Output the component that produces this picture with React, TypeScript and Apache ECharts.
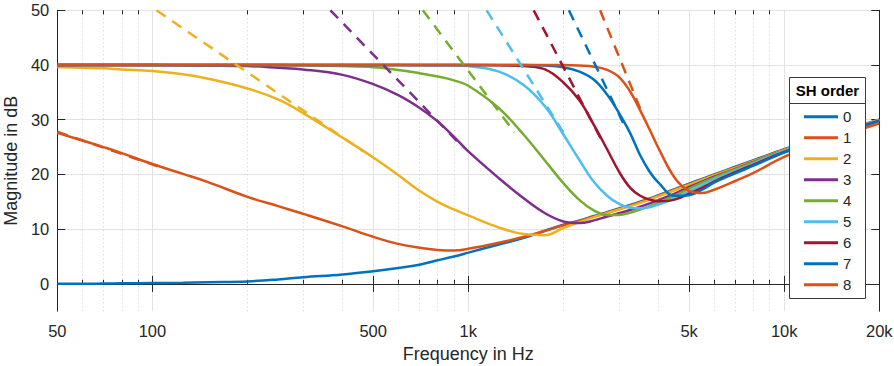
import React, { useEffect, useRef } from "react";
import * as echarts from "echarts";

// ---------- data ----------
const FREQ = [
  50, 60, 70, 80, 100, 125, 150, 200, 250, 300,
  400, 500, 600, 700, 800, 900, 1000,
  1250, 1500, 1750, 2000, 2250, 2500, 2750, 3000,
  3250, 3500, 3750, 4000, 4500, 5000, 5500, 6000,
  7000, 8000, 10000, 12500, 15000, 20000,
];

const order0 = [
  0.0, 0.0, 0.05, 0.1, 0.15, 0.2, 0.3, 0.45, 0.8, 1.2,
  1.7, 2.3, 2.9, 3.5, 4.3, 5.0, 5.7,
  7.2, 8.4, 9.7, 10.8, 11.6, 12.4, 13.1, 13.8,
  14.4, 15.0, 15.6, 16.2, 17.3, 18.3, 19.2, 20.0,
  21.4, 22.6, 24.6, 26.4, 27.8, 30.0,
];
const order1 = [
  27.6, 26.2, 25.0, 23.9, 21.9, 20.1, 18.6, 15.9, 14.2, 12.8,
  10.5, 8.6, 7.3, 6.6, 6.2, 6.1, 6.4,
  7.5, 8.6, 9.7, 10.7, 11.5, 12.3, 13.0, 13.7,
  14.3, 14.9, 15.5, 16.1, 17.2, 18.2, 19.1, 19.9,
  21.3, 22.5, 24.5, 26.3, 27.8, 30.0,
];
const order2 = [
  39.6, 39.5, 39.4, 39.2, 38.9, 38.3, 37.5, 35.7, 33.7, 31.2,
  26.7, 23.1, 19.9, 17.0, 15.0, 13.6, 12.5,
  10.3, 9.1, 8.9, 10.2, 11.3, 12.2, 12.9, 13.6,
  14.2, 14.8, 15.4, 16.0, 17.1, 18.1, 19.0, 19.8,
  21.2, 22.4, 24.5, 26.3, 27.7, 30.0,
];
const order3 = [
  40.0, 40.0, 40.0, 40.0, 40.0, 39.95, 39.9, 39.8, 39.5, 39.2,
  38.2, 36.5, 34.5, 32.2, 29.7, 26.9, 24.2,
  19.3, 15.6, 12.9, 11.4, 11.1, 11.6, 12.3, 12.9,
  13.5, 14.1, 14.7, 15.3, 16.5, 17.7, 18.7, 19.6,
  21.0, 22.3, 24.4, 26.2, 27.7, 29.9,
];
const order4 = [
  40.0, 40.0, 40.0, 40.0, 40.0, 40.0, 40.0, 40.0, 40.0, 39.95,
  39.8, 39.6, 39.1, 38.5, 37.9, 37.2, 36.2,
  32.1, 27.2, 22.5, 18.4, 15.3, 13.4, 12.6, 12.6,
  13.0, 13.6, 14.2, 14.9, 16.1, 17.4, 18.5, 19.4,
  20.9, 22.2, 24.4, 26.2, 27.7, 29.9,
];
const order5 = [
  40.0, 40.0, 40.0, 40.0, 40.0, 40.0, 40.0, 40.0, 40.0, 40.0,
  40.0, 40.0, 40.0, 39.95, 39.9, 39.9, 39.8,
  38.8, 36.3, 32.4, 27.3, 22.6, 18.6, 16.1, 14.6,
  13.9, 13.8, 14.0, 14.5, 15.6, 16.9, 18.1, 19.1,
  20.7, 22.0, 24.3, 26.1, 27.6, 29.9,
];
const order6 = [
  40.0, 40.0, 40.0, 40.0, 40.0, 40.0, 40.0, 40.0, 40.0, 40.0,
  40.0, 40.0, 40.0, 40.0, 40.0, 40.0, 40.0,
  39.95, 39.8, 39.2, 36.8, 33.5, 29.0, 24.6, 20.5,
  17.6, 16.1, 15.4, 15.1, 15.4, 16.5, 17.6, 18.7,
  20.4, 21.8, 24.1, 26.0, 27.5, 29.8,
];
const order7 = [
  40.0, 40.0, 40.0, 40.0, 40.0, 40.0, 40.0, 40.0, 40.0, 40.0,
  40.0, 40.0, 40.0, 40.0, 40.0, 40.0, 40.0,
  40.0, 40.0, 39.9, 39.6, 38.8, 37.3, 34.6, 31.2,
  27.6, 23.5, 20.5, 18.5, 16.1, 16.2, 17.2, 18.5,
  20.2, 21.6, 24.0, 25.9, 27.4, 29.8,
];
const order8 = [
  40.0, 40.0, 40.0, 40.0, 40.0, 40.0, 40.0, 40.0, 40.0, 40.0,
  40.0, 40.0, 40.0, 40.0, 40.0, 40.0, 40.0,
  40.0, 40.0, 40.0, 40.0, 39.9, 39.7, 39.1, 37.8,
  35.2, 31.7, 28.2, 24.8, 19.4, 17.0, 16.6, 17.2,
  18.8, 20.3, 23.2, 25.4, 27.0, 29.3,
];

// dashed low-frequency asymptotes: [frequency, dB] end points
const asym1 = [[50, 27.8], [110, 21.0]];
const asym2 = [[103, 50], [465, 24.2]];
const asym3 = [[366, 50], [960, 25.0]];
const asym4 = [[718, 50], [1400, 27.7]];
const asym5 = [[1143, 50], [2024, 27.2]];
const asym6 = [[1611, 50], [2640, 26.3]];
const asym7 = [[2082, 50], [3134, 28.7]];
const asym8 = [[2614, 50], [3514, 31.8]];

const ORDER_NAMES = ["0", "1", "2", "3", "4", "5", "6", "7", "8"];
const X_MAJOR = [50.001, 100, 500, 1000, 5000, 10000, 19999.9];
const X_MINOR = [60, 70, 80, 90, 200, 300, 400, 600, 700, 800, 900, 2000, 3000, 4000, 6000, 7000, 8000, 9000];
const Y_TICKS = [0, 10, 20, 30, 40, 50];

// ---------- styling ----------
const COLORS = ["#0072BD", "#D95319", "#EDB120", "#7E2F8E", "#77AC30", "#4DBEEE", "#A2142F", "#0072BD", "#D95319"];
const INK = "#262626";
const FONT = "'Liberation Sans', Arial, Helvetica, sans-serif";
const GRID = { left: 57.3, right: 14.7, top: 10.3, bottom: 54.8, outerBoundsMode: "none", containLabel: false };

export default function App() {
  const ref = useRef<HTMLDivElement>(null);

  useEffect(() => {
    if (!ref.current) return;
    const chart = echarts.init(ref.current, undefined, { renderer: "svg" });

    const solids = [order0, order1, order2, order3, order4, order5, order6, order7, order8];
    const asyms = [null, asym1, asym2, asym3, asym4, asym5, asym6, asym7, asym8];

    const fmt = (v: number) => {
      const r = Math.round(v);
      return r >= 1000 ? r / 1000 + "k" : String(r);
    };

    const logAxisBase = { type: "log", logBase: 10, min: 50, max: 20000 };

    const series: any[] = [];
    solids.forEach((vals, i) => {
      series.push({
        type: "line",
        name: ORDER_NAMES[i],
        xAxisIndex: 0,
        yAxisIndex: 0,
        data: FREQ.map((f, k) => [f, vals[k]]),
        symbol: "none",
        showSymbol: false,
        smooth: 0.4,
        lineStyle: { color: COLORS[i], width: 2.5 },
        itemStyle: { color: COLORS[i] },
        z: 2,
        silent: true,
      });
    });
    asyms.forEach((pts, i) => {
      if (!pts) return;
      series.push({
        type: "line",
        name: "asym" + i,
        xAxisIndex: 0,
        yAxisIndex: 0,
        data: pts,
        symbol: "none",
        showSymbol: false,
        lineStyle: { color: COLORS[i], width: 2.5, type: [11, 8], cap: "butt" },
        itemStyle: { color: COLORS[i] },
        z: 3,
        silent: true,
      });
    });

    const option: any = {
      animation: false,
      textStyle: { fontFamily: FONT },
      grid: [{ ...GRID }, { ...GRID }],
      xAxis: [
        {
          ...logAxisBase,
          gridIndex: 0,
          position: "bottom",
          axisLine: { show: true, lineStyle: { color: INK, width: 1 } },
          axisTick: { show: true, inside: true, length: 8, customValues: X_MAJOR, lineStyle: { color: INK } },
          axisLabel: {
            show: true,
            customValues: X_MAJOR,
            formatter: fmt,
            color: INK,
            fontSize: 16.5,
            margin: 11,
            fontFamily: FONT,
            showMinLabel: true,
            showMaxLabel: true,
          },
          splitLine: { show: true, lineStyle: { color: "#e2e2e2", width: 1 } },
          minorTick: { show: false },
          minorSplitLine: { show: false },
          name: "Frequency in Hz",
          nameLocation: "middle",
          nameGap: 34,
          nameTextStyle: { color: INK, fontSize: 18, fontFamily: FONT },
        },
        {
          ...logAxisBase,
          gridIndex: 0,
          position: "top",
          axisLine: { show: true, lineStyle: { color: INK, width: 1 } },
          axisTick: { show: true, inside: true, length: 8, customValues: X_MAJOR, lineStyle: { color: INK } },
          axisLabel: { show: false },
          splitLine: { show: false },
        },
        {
          ...logAxisBase,
          gridIndex: 1,
          position: "bottom",
          axisLine: { show: false },
          axisTick: { show: true, inside: true, length: 4, customValues: X_MINOR, lineStyle: { color: INK } },
          axisLabel: { show: false },
          splitLine: { show: true, lineStyle: { color: "#cfcfcf", width: 1, type: [1, 3] } },
        },
        {
          ...logAxisBase,
          gridIndex: 1,
          position: "top",
          axisLine: { show: false },
          axisTick: { show: true, inside: true, length: 4, customValues: X_MINOR, lineStyle: { color: INK } },
          axisLabel: { show: false },
          splitLine: { show: false },
        },
      ],
      yAxis: [
        {
          type: "value",
          gridIndex: 0,
          min: -5,
          max: 50,
          position: "left",
          axisLine: { show: true, lineStyle: { color: INK, width: 1 } },
          axisTick: { show: true, inside: true, length: 8, customValues: Y_TICKS, lineStyle: { color: INK } },
          axisLabel: { show: true, customValues: Y_TICKS, color: INK, fontSize: 16.5, margin: 8, fontFamily: FONT },
          splitLine: { show: true, lineStyle: { color: "#e2e2e2", width: 1 } },
          name: "Magnitude in dB",
          nameLocation: "middle",
          nameRotate: 90,
          nameGap: 32,
          nameTextStyle: { color: INK, fontSize: 18, fontFamily: FONT },
        },
        {
          type: "value",
          gridIndex: 0,
          min: -5,
          max: 50,
          position: "right",
          axisLine: { show: true, lineStyle: { color: INK, width: 1 } },
          axisTick: { show: true, inside: true, length: 8, customValues: Y_TICKS, lineStyle: { color: INK } },
          axisLabel: { show: false },
          splitLine: { show: false },
        },
        {
          type: "value",
          gridIndex: 1,
          min: -5,
          max: 50,
          show: false,
        },
      ],
      legend: {
        data: ORDER_NAMES.map((n, i) => ({ name: n, itemStyle: { color: COLORS[i], borderWidth: 0 } })),
        orient: "vertical",
        left: 804,
        top: 109.2,
        padding: 0,
        itemWidth: 34,
        itemHeight: 3,
        itemGap: 6,
        icon: "rect",
        itemStyle: { borderWidth: 0 },
        selectedMode: false,
        textStyle: { fontSize: 15, lineHeight: 15, color: INK, fontFamily: FONT },
        z: 20,
      },
      graphic: [
        {
          type: "rect",
          z: 15,
          shape: { x: 789.5, y: 77.5, width: 76, height: 221 },
          style: { fill: "#ffffff", stroke: "#3a3a3a", lineWidth: 1 },
        },
        {
          type: "line",
          z: 16,
          shape: { x1: 789.5, y1: 103.5, x2: 865.5, y2: 103.5 },
          style: { stroke: "#3a3a3a", lineWidth: 1 },
        },
        {
          type: "text",
          z: 16,
          x: 827.5,
          y: 90.5,
          style: {
            text: "SH order",
            fill: "#000000",
            font: "bold 15px " + FONT,
            align: "center",
            verticalAlign: "middle",
          },
        },
      ],
      series,
    };

    chart.setOption(option);
    return () => chart.dispose();
  }, []);

  return (
    <div
      ref={ref}
      style={{ position: "absolute", left: 0, top: 0, width: 894, height: 366, background: "#fff" }}
    />
  );
}
